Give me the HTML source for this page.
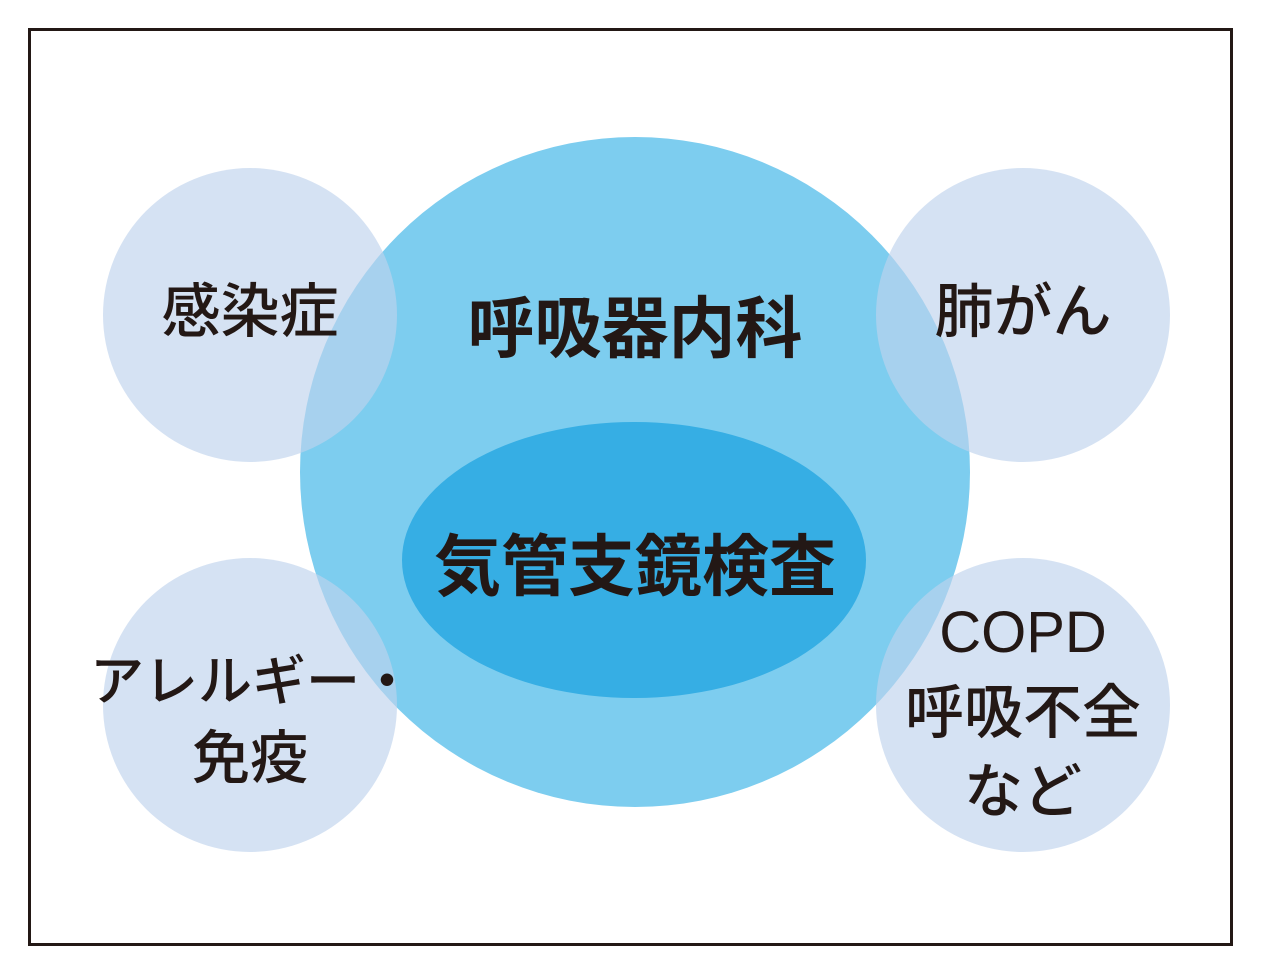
<!DOCTYPE html>
<html><head><meta charset="utf-8"><style>
html,body{margin:0;padding:0;background:#fff;}
body{width:1273px;height:977px;overflow:hidden;position:relative;}
</style></head><body>
<svg width="1273" height="977" xmlns="http://www.w3.org/2000/svg" style="position:absolute;left:0;top:0">
<rect x="29.5" y="29.5" width="1202" height="915" fill="#fff" stroke="#231815" stroke-width="3"/>
<circle cx="635" cy="472" r="335" fill="#7dcdef"/>
<ellipse cx="634" cy="560" rx="232" ry="138" fill="#36aee4"/>
<g fill="rgb(191,210,236)" fill-opacity="0.65">
<circle cx="250" cy="315" r="147"/>
<circle cx="1023" cy="315" r="147"/>
<circle cx="250" cy="705" r="147"/>
<circle cx="1023" cy="705" r="147"/>
</g>
<g font-family="'Liberation Sans','Noto Sans CJK JP',sans-serif" fill="#231815" text-anchor="middle" font-weight="500">
<text x="250" y="332" font-size="59">感染症</text>
<text x="1023" y="332" font-size="59">肺がん</text>
<text x="252" y="700" font-size="54">アレルギー・</text>
<text x="250" y="778" font-size="58">免疫</text>
<text x="1023" y="652" font-size="58">COPD</text>
<text x="1023" y="733" font-size="59">呼吸不全</text>
<text x="1023" y="812" font-size="59">など</text>
<text x="635" y="352" font-size="67" font-weight="bold">呼吸器内科</text>
<text x="635" y="590" font-size="67" font-weight="bold">気管支鏡検査</text>
</g>
</svg>
</body></html>
